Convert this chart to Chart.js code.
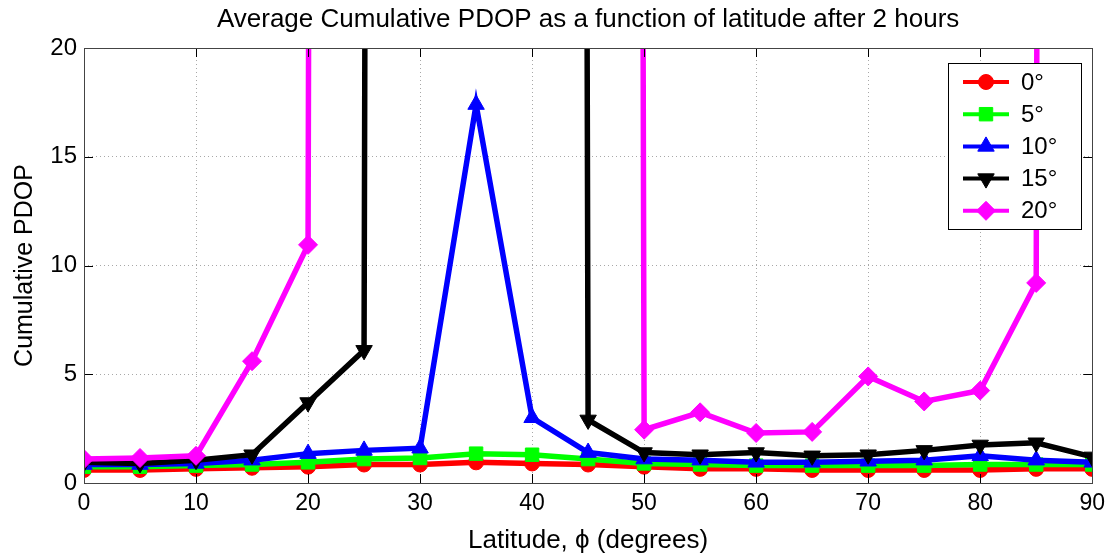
<!DOCTYPE html>
<html>
<head>
<meta charset="utf-8">
<script src="https://cdn.jsdelivr.net/npm/chart.js@4.4.1/dist/chart.umd.min.js"></script>
<style>
  html, body { margin: 0; padding: 0; background: #fff; }
  #wrap { width: 1112px; height: 556px; }
</style>
</head>
<body>
<div id="wrap"><canvas id="myChart" width="1112" height="556"></canvas></div>
<script>
// latitude in degrees
var latitudes = [0, 5, 10, 15, 20, 25, 30, 35, 40, 45, 50, 55, 60, 65, 70, 75, 80, 85, 90];
// values that go off the top of the plot (PDOP blows up)
var OFF = 1000;

// one series per elevation mask
var maskLabels = ['0°', '5°', '10°', '15°', '20°'];
var pdop0  = [0.6, 0.6, 0.65, 0.7, 0.75, 0.85, 0.85, 0.95, 0.9, 0.85, 0.75, 0.65, 0.65, 0.6, 0.6, 0.6, 0.6, 0.65, 0.65];
var pdop5  = [0.75, 0.75, 0.8, 0.85, 0.95, 1.1, 1.15, 1.35, 1.3, 1.1, 0.9, 0.85, 0.8, 0.8, 0.8, 0.8, 0.85, 0.85, 0.85];
var pdop10 = [0.85, 0.85, 0.9, 1.05, 1.35, 1.5, 1.6, 17.4, 3.0, 1.4, 1.1, 1.05, 0.95, 0.95, 1.0, 1.05, 1.25, 1.05, 0.95];
var pdop15 = [0.95, 0.9, 1.05, 1.3, 3.7, 6.1, OFF, OFF, OFF, 2.9, 1.4, 1.3, 1.4, 1.25, 1.3, 1.5, 1.75, 1.85, 1.2];
var pdop20 = [1.1, 1.15, 1.25, 5.6, 10.95, OFF, OFF, OFF, OFF, OFF, 2.45, 3.25, 2.3, 2.35, 4.9, 3.75, 4.25, 9.2, OFF];

var xTicks = [0, 10, 20, 30, 40, 50, 60, 70, 80, 90];
var yTicks = [0, 5, 10, 15, 20];

var series = [pdop0, pdop5, pdop10, pdop15, pdop20];
var colors = ['#ff0000', '#00ff00', '#0000ff', '#000000', '#ff00ff'];
var markers = ['circle', 'rect', 'triangle', 'triangle', 'rectRot'];
var rotations = [0, 0, 0, 180, 0];
var radii = [7.5, 9.5, 9.5, 9.5, 9.5];

function toPoints(vals) {
  return latitudes.map(function (lat, i) { return { x: lat, y: vals[i] }; });
}

var datasets = series.map(function (vals, i) {
  return {
    label: maskLabels[i],
    data: toPoints(vals),
    borderColor: colors[i],
    backgroundColor: colors[i],
    borderWidth: 5.5,
    pointStyle: markers[i],
    pointRotation: rotations[i],
    pointRadius: radii[i],
    pointBorderWidth: 1,
    pointBackgroundColor: colors[i],
    pointBorderColor: colors[i],
    tension: 0,
    order: 5 - i   // later series on top, like matlab
  };
});

var FONT = 'Liberation Sans, Arial, sans-serif';

// box round the axes, inward ticks, and matlab style legend
var matlabLook = {
  id: 'matlabLook',
  afterDatasetsDraw: function (chart) {
    var a = chart.chartArea, ctx = chart.ctx;
    var xs = chart.scales.x, ys = chart.scales.y;
    ctx.save();
    ctx.strokeStyle = '#000';
    ctx.lineWidth = 1;
    ctx.beginPath();
    xTicks.forEach(function (v) {
      var px = Math.round(xs.getPixelForValue(v)) + 0.5;
      ctx.moveTo(px, a.bottom); ctx.lineTo(px, a.bottom - 9);
      ctx.moveTo(px, a.top); ctx.lineTo(px, a.top + 9);
    });
    yTicks.forEach(function (v) {
      var py = Math.round(ys.getPixelForValue(v)) + 0.5;
      ctx.moveTo(a.left, py); ctx.lineTo(a.left + 9, py);
      ctx.moveTo(a.right, py); ctx.lineTo(a.right - 9, py);
    });
    ctx.stroke();
    ctx.strokeStyle = '#444';
    ctx.strokeRect(Math.round(a.left) + 0.5, Math.round(a.top) + 0.5,
                   Math.round(a.right - a.left), Math.round(a.bottom - a.top));
    ctx.restore();
  },
  afterDraw: function (chart) {
    var ctx = chart.ctx;
    var bx = 948, by = 63, bw = 133, bh = 166;
    ctx.save();
    ctx.fillStyle = '#fff';
    ctx.fillRect(bx, by, bw, bh);
    ctx.strokeStyle = '#000';
    ctx.lineWidth = 1;
    ctx.strokeRect(bx + 0.5, by + 0.5, bw, bh);
    ctx.font = '24px ' + FONT;
    ctx.textBaseline = 'middle';
    chart.data.datasets.forEach(function (ds, i) {
      var cy = by + 19 + i * 32.2;
      ctx.strokeStyle = ds.borderColor;
      ctx.lineWidth = 4;
      ctx.beginPath();
      ctx.moveTo(963, cy); ctx.lineTo(1009, cy);
      ctx.stroke();
      ctx.fillStyle = ds.backgroundColor;
      ctx.lineWidth = 1;
      Chart.helpers.drawPoint(ctx, {
        pointStyle: ds.pointStyle, radius: ds.pointRadius,
        rotation: ds.pointRotation, borderWidth: 1
      }, 986, cy);
      ctx.fillStyle = '#000';
      ctx.fillText(ds.label, 1021, cy + 1);
    });
    ctx.restore();
  }
};

var ctx = document.getElementById('myChart');
var myChart = new Chart(ctx, {
  type: 'line',
  data: { datasets: datasets },
  plugins: [matlabLook],
  options: {
    responsive: false,
    animation: false,
    devicePixelRatio: 1,
    layout: { padding: { left: 0, right: 18, top: 0, bottom: 0 } },
    plugins: {
      legend: { display: false },
      tooltip: { enabled: false },
      title: {
        display: true,
        text: 'Average Cumulative PDOP as a function of latitude after 2 hours',
        color: '#000',
        fullSize: false,
        font: { family: FONT, size: 26, weight: 'normal' },
        padding: { top: 4, bottom: 12.8 }
      }
    },
    scales: {
      x: {
        type: 'linear',
        min: 0, max: 90,
        afterBuildTicks: function (s) { s.ticks = xTicks.map(function (v) { return { value: v }; }); },
        afterFit: function (s) { s.height = 73; },
        grid: { color: '#a8a8a8', lineWidth: 1, drawTicks: false },
        border: { display: false, dash: [1, 3] },
        ticks: { color: '#000', padding: 7, maxRotation: 0,
                 font: { family: 'Liberation Sans Narrow, ' + FONT, size: 23 } },
        title: { display: true, text: 'Latitude, \u03d5 (degrees)', color: '#000',
                 font: { family: 'Liberation Sans Narrow, ' + FONT, size: 26 },
                 padding: { top: 0, bottom: 0 } }
      },
      y: {
        min: 0, max: 20,
        afterBuildTicks: function (s) { s.ticks = yTicks.map(function (v) { return { value: v }; }); },
        afterFit: function (s) { s.width = 84; },
        grid: { color: '#a8a8a8', lineWidth: 1, drawTicks: false },
        border: { display: false, dash: [1, 3] },
        ticks: { color: '#000', padding: 7, font: { family: FONT, size: 24 } },
        title: { display: true, text: 'Cumulative PDOP', color: '#000',
                 font: { family: FONT, size: 25 }, padding: { top: 10, bottom: 0 } }
      }
    }
  }
});
</script>
</body>
</html>
